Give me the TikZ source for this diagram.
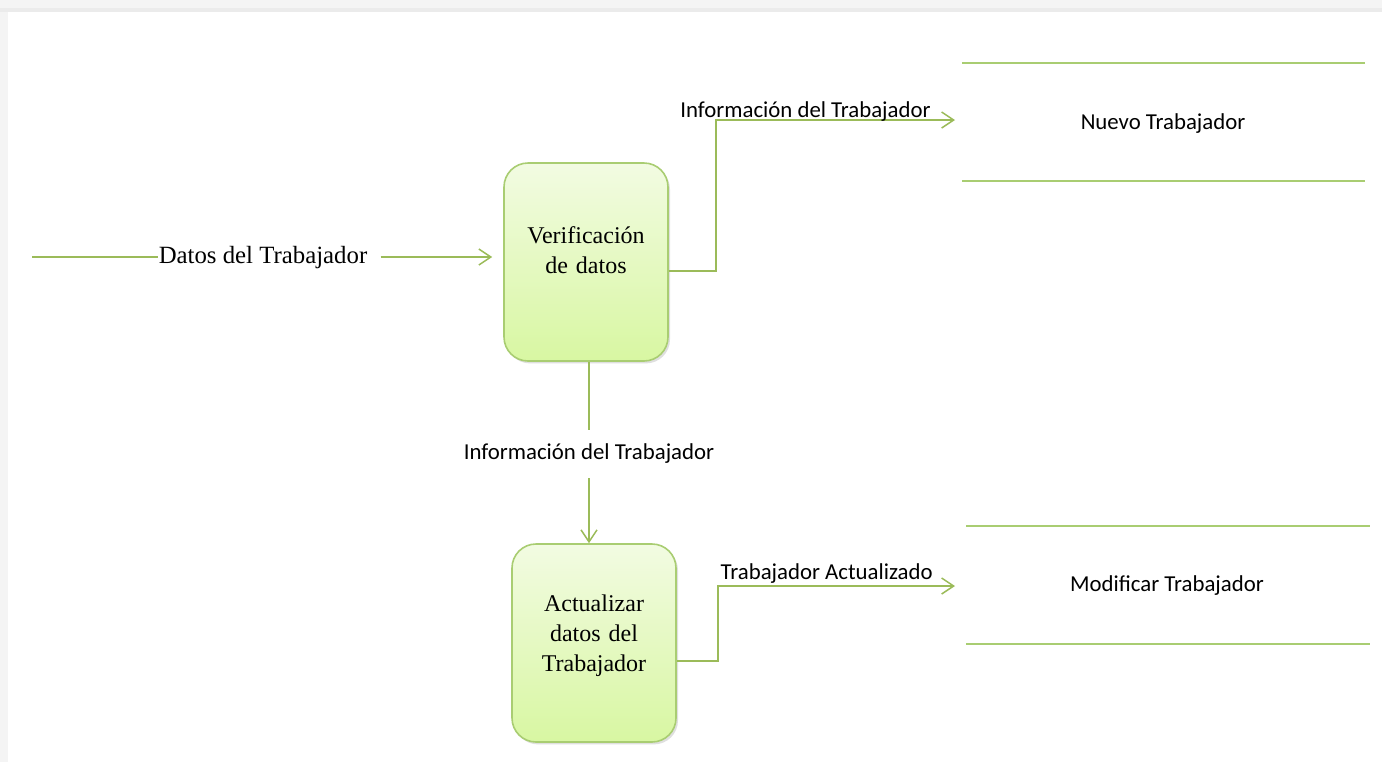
\documentclass[tikz,border=0pt]{standalone}
\usepackage{fontspec}
\setmainfont{Liberation Serif}
\newfontfamily\calib{Carlito}
\usepackage{tikz}
\usetikzlibrary{shapes, arrows.meta, shadows, positioning}
\definecolor{flowgreen}{HTML}{9BBB59}
\definecolor{storegreen}{HTML}{A9CD72}
\definecolor{boxtop}{HTML}{F2FBE2}
\definecolor{boxbot}{HTML}{D8F7A2}
\tikzstyle{proc} = [rectangle, rounded corners=12pt, draw=storegreen, line width=0.8pt, top color=boxtop, bottom color=boxbot, minimum width=82pt, minimum height=99pt, text width=72pt, align=center, font=\fontsize{12}{15}\selectfont, drop shadow={opacity=0.25, shadow xshift=1pt, shadow yshift=-1.2pt}]
\tikzstyle{store} = [draw=storegreen, line width=0.6pt]
\tikzstyle{flow} = [draw=flowgreen, line width=0.75pt, -{Straight Barb[length=6pt, width=8pt]}]
\tikzstyle{lbl} = [font=\calib\fontsize{11.4}{13}\selectfont, inner sep=1pt]

\begin{document}
\begin{tikzpicture}[x=0.5pt, y=-0.5pt]
    % marco
    \fill[gray!9] (0,0) rectangle (1382,762);
    \fill[gray!16] (0,8) rectangle (1382,12);
    \fill[white] (8,12) rectangle (1382,762);
    \useasboundingbox (0,0) rectangle (1382,762);

    \node[proc](verif) at (586,262) {Verificación\\de datos\\[-3pt]\mbox{}};
    \node[proc](actual) at (594,643) {Actualizar\\datos del\\Trabajador\\[-5pt]\mbox{}};

    % almacenes
    \coordinate (nuevoA) at (962,63);
    \coordinate (nuevoB) at (1365,63);
    \coordinate (nuevoC) at (962,181);
    \coordinate (nuevoD) at (1365,181);
    \path[store] (nuevoA) -- (nuevoB);
    \path[store] (nuevoC) -- (nuevoD);
    \node[lbl](nuevo) at (1163,124) {Nuevo Trabajador};

    \coordinate (modifA) at (966,526);
    \coordinate (modifB) at (1370,526);
    \coordinate (modifC) at (966,644);
    \coordinate (modifD) at (1370,644);
    \path[store] (modifA) -- (modifB);
    \path[store] (modifC) -- (modifD);
    \node[lbl](modif) at (1167,586) {Modificar Trabajador};

    % flujo de entrada
    \coordinate (entrada) at (32,257);
    \node[font=\fontsize{12.4}{14}\selectfont, inner sep=0pt](datos) at (263,258) {Datos del Trabajador};
    \draw[draw=flowgreen, line width=0.75pt] (entrada) -- (datos.west |- entrada);
    \path[flow] ([xshift=6.5pt]datos.east |- entrada) -- ([xshift=-5.5pt]verif.west |- entrada);

    % hacia nuevo trabajador
    \coordinate (nuevoIn) at (955,120);
    \path[flow] (verif.east |- 0,271) -| (716,120) -- (nuevoIn);
    \node[lbl, above left=-2pt and 11pt of nuevoIn](info1) {Información del Trabajador};

    % hacia actualizar
    \node[lbl, inner sep=7pt](info2) at (589,454) {Información del Trabajador};
    \draw[draw=flowgreen, line width=0.75pt] (verif.south -| info2) -- (info2.north);
    \path[flow] (info2.south) -- (info2.south |- actual.north);

    % hacia modificar trabajador
    \coordinate (modifIn) at (955,586);
    \path[flow] (actual.east |- 0,661) -| (718,586) -- (modifIn);
    \node[lbl, above left=0pt and 10pt of modifIn](actz) {Trabajador Actualizado};
\end{tikzpicture}
\end{document}
